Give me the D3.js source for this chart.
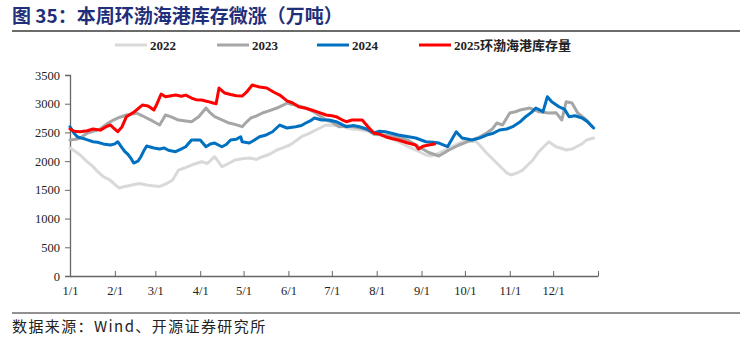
<!DOCTYPE html>
<html><head><meta charset="utf-8">
<script src="https://cdn.jsdelivr.net/npm/d3@7"></script>
<style>
body{margin:0;background:#fff;}
svg{display:block;}
</style></head>
<body>
<svg id="c" width="753" height="343"></svg>
<script>
const title = "图 35：本周环渤海港库存微涨（万吨）";
const source = "数据来源：Wind、开源证券研究所";
const seriesNames = ["2022", "2023", "2024", "2025环渤海港库存量"];
const seriesColors = ["#d9d9d9", "#a6a6a6", "#0070c0", "#ff0000"];
const yTicks = [0, 500, 1000, 1500, 2000, 2500, 3000, 3500];
const monthLabels = ["1/1","2/1","3/1","4/1","5/1","6/1","7/1","8/1","9/1","10/1","11/1","12/1"];

const dates2022 = ["1/1","1/4","1/8","1/12","1/17","1/20","1/24","1/28","1/31","2/4","2/8","2/13","2/18","2/23","2/27","3/4","3/8","3/13","3/17","3/21","3/26","4/2","4/6","4/11","4/16","4/20","4/25","4/30","5/5","5/10","5/14","5/19","5/24","5/28","6/2","6/6","6/10","6/15","6/20","6/27","7/4","7/9","7/15","7/22","7/30","8/7","8/16","8/22","8/28","9/4","9/8","9/13","9/18","9/22","9/29","10/4","10/9","10/16","10/23","10/30","11/2","11/6","11/10","11/17","11/21","11/28","12/3","12/7","12/10","12/14","12/17","12/21","12/24","12/29"];
const values2022 = [2229,2180,2107,2010,1903,1820,1729,1680,1619,1532,1560,1584,1610,1584,1570,1560,1600,1671,1845,1880,1932,1990,1960,2077,1903,1950,2020,2040,2054,2030,2077,2120,2194,2230,2281,2350,2425,2480,2542,2629,2620,2600,2560,2540,2500,2430,2338,2260,2194,2107,2090,2141,2200,2251,2338,2350,2338,2141,1967,1793,1760,1793,1845,2020,2164,2338,2251,2220,2194,2210,2251,2300,2368,2403];

const dates2023 = ["1/1","1/5","1/8","1/13","1/17","1/22","1/26","1/31","2/4","2/9","2/13","2/16","2/20","2/23","2/27","3/4","3/8","3/12","3/17","3/22","3/26","3/31","4/5","4/8","4/11","4/16","4/21","4/25","4/30","5/3","5/6","5/10","5/14","5/19","5/24","5/28","5/31","6/3","6/6","6/10","6/13","6/20","6/27","7/1","7/6","7/13","7/20","7/26","7/30","8/7","8/16","8/23","8/30","9/6","9/13","9/20","9/27","10/2","10/6","10/11","10/16","10/20","10/23","10/27","11/1","11/5","11/8","11/15","11/21","11/28","12/3","12/7","12/10","12/14","12/18","12/24","12/28"];
const values2023 = [2368,2380,2403,2490,2520,2560,2640,2716,2760,2803,2820,2838,2790,2751,2700,2629,2803,2770,2716,2700,2687,2774,2925,2840,2774,2720,2664,2640,2600,2680,2751,2790,2838,2880,2925,2970,3012,2990,2977,2950,2925,2838,2716,2680,2600,2610,2580,2540,2470,2450,2420,2360,2250,2150,2090,2194,2281,2330,2368,2420,2490,2560,2664,2629,2838,2860,2890,2925,2861,2838,2844,2716,3035,3012,2838,2716,2600];

const dates2024 = ["1/1","1/4","1/6","1/9","1/12","1/17","1/20","1/24","1/29","2/1","2/3","2/6","2/8","2/10","2/12","2/14","2/17","2/19","2/21","2/23","2/28","3/4","3/7","3/10","3/15","3/18","3/22","3/26","4/1","4/5","4/8","4/11","4/16","4/19","4/22","4/26","4/29","4/30","5/5","5/8","5/12","5/16","5/21","5/26","5/31","6/6","6/10","6/13","6/16","6/19","6/24","6/29","7/4","7/11","7/16","7/20","7/25","7/30","8/3","8/7","8/12","8/16","8/22","8/28","9/4","9/9","9/13","9/19","9/25","9/29","10/6","10/11","10/16","10/20","10/25","10/30","11/3","11/8","11/12","11/16","11/19","11/24","11/27","11/30","12/5","12/9","12/12","12/16","12/21","12/25","12/29"];
const values2024 = [2600,2480,2425,2400,2380,2338,2330,2300,2281,2300,2338,2230,2164,2120,2054,1967,2000,2077,2180,2263,2230,2211,2230,2190,2164,2200,2251,2368,2368,2251,2300,2315,2251,2290,2368,2380,2425,2338,2315,2360,2425,2450,2512,2629,2577,2600,2620,2664,2700,2751,2716,2716,2687,2600,2620,2600,2560,2490,2520,2512,2480,2455,2430,2403,2338,2330,2315,2251,2512,2403,2368,2400,2455,2480,2542,2560,2600,2680,2774,2850,2925,2861,3122,3035,2947,2900,2774,2790,2751,2680,2577];

const dates2025 = ["1/1","1/4","1/8","1/13","1/17","1/22","1/26","1/29","1/31","2/3","2/6","2/9","2/14","2/20","2/24","2/28","3/2","3/5","3/8","3/12","3/15","3/19","3/22","3/26","3/29","4/2","4/6","4/10","4/12","4/14","4/18","4/22","4/26","4/30","5/3","5/7","5/12","5/17","5/22","5/26","5/31","6/4","6/8","6/13","6/17","6/22","6/27","7/1","7/4","7/8","7/11","7/15","7/22","7/26","7/30","8/3","8/7","8/12","8/16","8/22","8/28","8/30","9/2","9/6","9/10"];
const values2025 = [2560,2520,2512,2530,2559,2540,2600,2629,2580,2512,2600,2774,2850,2977,2960,2890,2990,3169,3120,3140,3151,3130,3150,3099,3070,3064,3040,3012,3000,3273,3186,3160,3140,3134,3200,3325,3290,3273,3200,3151,3050,3012,2947,2920,2890,2850,2803,2790,2774,2720,2687,2716,2716,2600,2490,2470,2425,2390,2368,2320,2281,2211,2260,2281,2298];

const parse = d3.timeParse("%Y/%m/%d");
const toDate = s => parse("2001/" + s);
const allSeries = [
  {dates: dates2022, values: values2022},
  {dates: dates2023, values: values2023},
  {dates: dates2024, values: values2024},
  {dates: dates2025, values: values2025}
].map((s, i) => ({
  name: seriesNames[i], color: seriesColors[i],
  pts: s.dates.map((d, j) => ({date: toDate(d), value: s.values[j]}))
}));

const svg = d3.select("#c");
const serif = "'Liberation Serif','Times New Roman',serif";
const cjk = "'Noto Sans CJK SC','Noto Sans',sans-serif";

// title
svg.append("text").attr("x", 12).attr("y", 23)
  .attr("font-family", cjk).attr("font-weight", "bold").attr("font-size", 19)
  .attr("fill", "#1f2f7a").text(title);
svg.append("line").attr("x1", 12).attr("x2", 740).attr("y1", 31).attr("y2", 31)
  .attr("stroke", "#6b6b6b").attr("stroke-width", 2);

const x = d3.scaleTime().domain([toDate("1/1"), parse("2002/01/01")]).range([70, 598]);
const y = d3.scaleLinear().domain([0, 3500]).range([276, 75]);

// y axis
const yAxis = svg.append("g").attr("transform", "translate(70,0)")
  .call(d3.axisLeft(y).tickValues(yTicks).tickSize(5).tickFormat(d3.format("d")));
yAxis.select(".domain").attr("stroke", "#666").attr("stroke-width", 1.3);
yAxis.selectAll(".tick line").attr("stroke", "#666");
yAxis.selectAll("text").attr("font-family", serif).attr("font-size", 12.5).attr("fill", "#222").attr("dx", "-2");

// x axis
const monthDates = monthLabels.map(toDate).concat([parse("2002/01/01")]);
const xAxis = svg.append("g").attr("transform", "translate(0,276)")
  .call(d3.axisBottom(x).tickValues(monthDates).tickSizeInner(-5).tickSizeOuter(0)
    .tickFormat((d, i) => i < monthLabels.length ? monthLabels[i] : ""));
xAxis.select(".domain").attr("stroke", "#666").attr("stroke-width", 1.3);
xAxis.selectAll(".tick line").attr("stroke", "#666");
xAxis.selectAll("text").attr("font-family", serif).attr("font-size", 12.5).attr("fill", "#222").attr("dy", "1.3em");

// lines
const line = d3.line().x(d => x(d.date)).y(d => y(d.value));
svg.append("g").selectAll("path").data(allSeries).join("path")
  .attr("d", d => line(d.pts)).attr("fill", "none")
  .attr("stroke", d => d.color).attr("stroke-width", 3)
  .attr("stroke-linejoin", "round").attr("stroke-linecap", "round");

// legend
const legendX = [115, 217, 317, 419];
const lg = svg.append("g").selectAll("g").data(allSeries).join("g")
  .attr("transform", (d, i) => `translate(${legendX[i]},45)`);
lg.append("line").attr("x1", 0).attr("x2", 32).attr("stroke", d => d.color).attr("stroke-width", 3);
lg.append("text").attr("x", 35).attr("y", 4.5)
  .attr("font-family", serif + ",'Noto Sans CJK SC'").attr("font-weight", "bold").attr("font-size", 13)
  .attr("fill", "#222").text(d => d.name);

// source
svg.append("line").attr("x1", 12).attr("x2", 740).attr("y1", 313).attr("y2", 313)
  .attr("stroke", "#222").attr("stroke-width", 1);
svg.append("text").attr("x", 12).attr("y", 332)
  .attr("font-family", "'Noto Sans CJK SC','Liberation Serif',serif").attr("font-size", 15)
  .attr("letter-spacing", 1.4)
  .attr("fill", "#222").text(source);
</script>
</body></html>
